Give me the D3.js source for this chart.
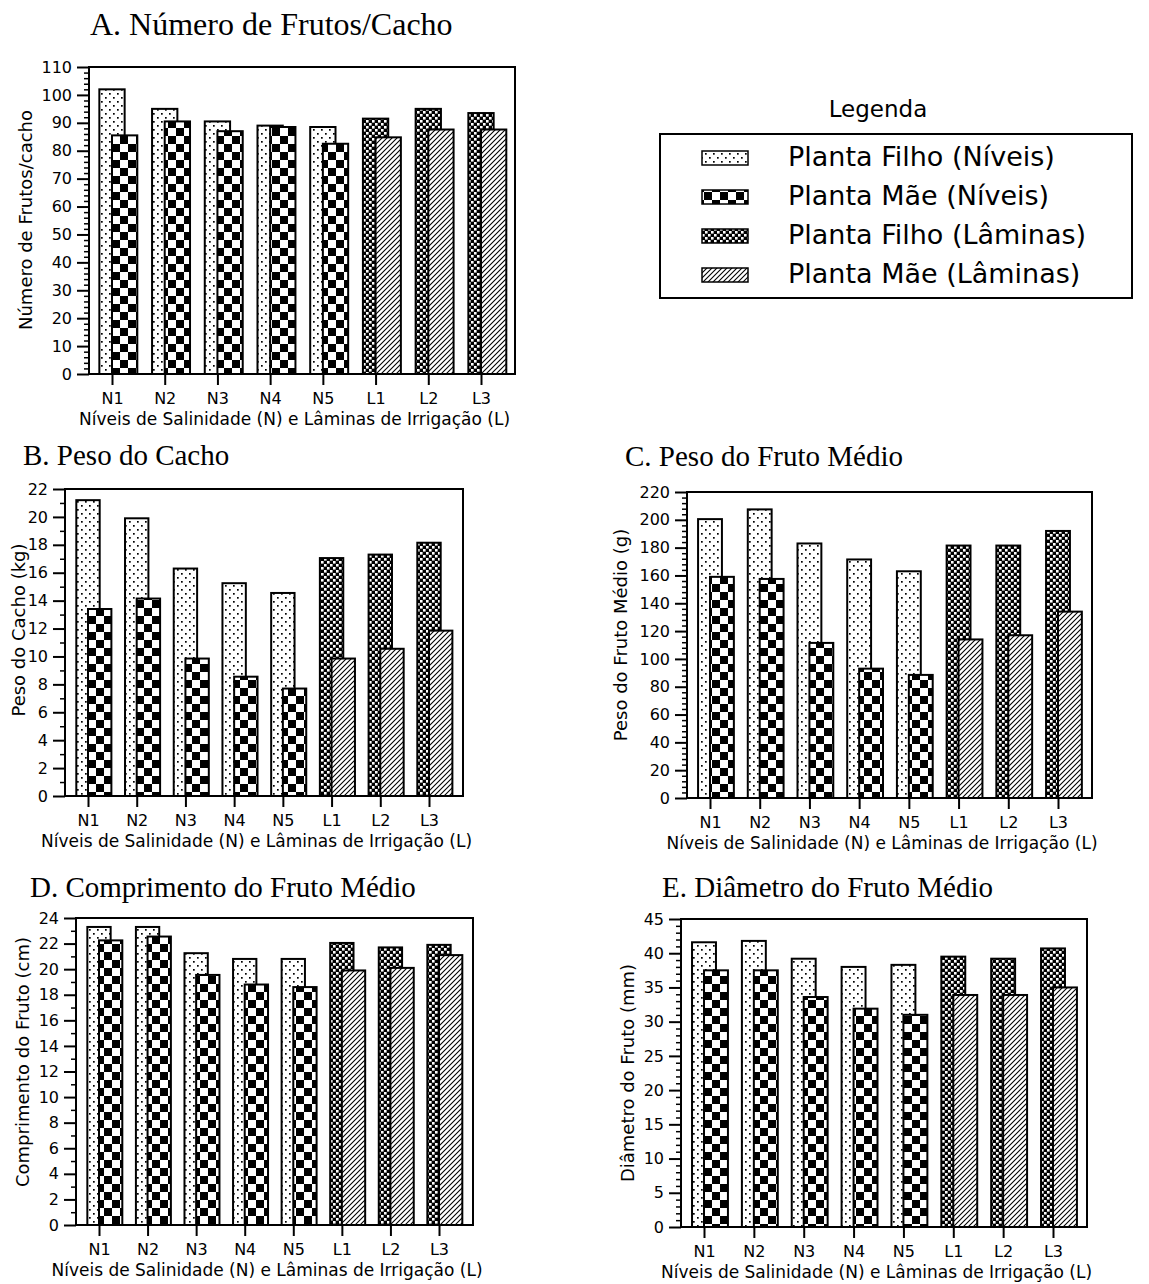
<!DOCTYPE html>
<html>
<head>
<meta charset="utf-8">
<script src="https://cdn.jsdelivr.net/npm/d3@7"></script>
<style>
body { margin: 0; background: #fff; }
svg { display: block; }
</style>
</head>
<body>
<svg width="1149" height="1284"></svg>
<script>
// categorias: N = níveis de salinidade, L = lâminas de irrigação
const categories = ["N1", "N2", "N3", "N4", "N5", "L1", "L2", "L3"];

// A. Número de frutos por cacho
const frutosFilho = [102, 95, 90.5, 89, 88.5, 91.5, 95, 93.5];
const frutosMae = [85.5, 90.5, 87, 88.5, 82.5, 84.8, 87.6, 87.6];
// B. Peso do cacho (kg)
const cachoFilho = [21.2, 19.9, 16.3, 15.25, 14.55, 17.05, 17.3, 18.15];
const cachoMae = [13.4, 14.15, 9.85, 8.55, 7.7, 9.85, 10.55, 11.85];
// C. Peso do fruto médio (g)
const pesoFilho = [200.5, 207.5, 183, 171.5, 163, 181.5, 181.5, 192];
const pesoMae = [159, 157.5, 111.5, 93, 88.5, 114, 117, 134];
// D. Comprimento do fruto (cm)
const compFilho = [23.3, 23.3, 21.25, 20.8, 20.8, 22.05, 21.7, 21.9];
const compMae = [22.25, 22.55, 19.55, 18.8, 18.6, 19.9, 20.1, 21.1];
// E. Diâmetro do fruto (mm)
const diamFilho = [41.6, 41.8, 39.2, 38.0, 38.3, 39.5, 39.2, 40.7];
const diamMae = [37.5, 37.5, 33.6, 31.9, 31.0, 33.9, 33.9, 35.0];

// ticks do eixo y
const ticksA = [0, 10, 20, 30, 40, 50, 60, 70, 80, 90, 100, 110];
const ticksB = [0, 2, 4, 6, 8, 10, 12, 14, 16, 18, 20, 22];
const ticksC = [0, 20, 40, 60, 80, 100, 120, 140, 160, 180, 200, 220];
const ticksD = [0, 2, 4, 6, 8, 10, 12, 14, 16, 18, 20, 22, 24];
const ticksE = [0, 5, 10, 15, 20, 25, 30, 35, 40, 45];

const legendLabels = ["Planta Filho (Níveis)", "Planta Mãe (Níveis)", "Planta Filho (Lâminas)", "Planta Mãe (Lâminas)"];
const legendFills = ["dots", "checker", "fine", "hatch"];

const axisTitle = "Níveis de Salinidade (N) e Lâminas de Irrigação (L)";
const sans = "DejaVu Sans, Verdana, sans-serif";
const serif = "Liberation Serif, Times New Roman, serif";

var svg = d3.select("svg");
var defs = svg.append("defs");

function makePattern(id, w, h) {
  var p = defs.append("pattern")
    .attr("id", id)
    .attr("patternUnits", "userSpaceOnUse")
    .attr("width", w)
    .attr("height", h);
  p.append("rect").attr("width", w).attr("height", h).attr("fill", "#fff");
  return p;
}

var dots = makePattern("dots", 8, 8);
dots.append("rect").attr("x", 1).attr("y", 1).attr("width", 1.7).attr("height", 1.7).attr("fill", "#000");
dots.append("rect").attr("x", 5).attr("y", 5).attr("width", 1.7).attr("height", 1.7).attr("fill", "#000");

var checker = makePattern("checker", 16, 16);
checker.append("rect").attr("x", 0).attr("y", 0).attr("width", 8).attr("height", 8).attr("fill", "#000");
checker.append("rect").attr("x", 8).attr("y", 8).attr("width", 8).attr("height", 8).attr("fill", "#000");

var fine = makePattern("fine", 6, 6);
fine.append("rect").attr("width", 6).attr("height", 6).attr("fill", "#000");
fine.append("rect").attr("x", 0).attr("y", 0).attr("width", 2.6).attr("height", 2.6).attr("fill", "#fff");
fine.append("rect").attr("x", 3).attr("y", 3).attr("width", 2.6).attr("height", 2.6).attr("fill", "#fff");

var hatch = makePattern("hatch", 5, 5);
hatch.append("path")
  .attr("d", "M0,5 L5,0 M-1,1 L1,-1 M4,6 L6,4")
  .attr("stroke", "#000")
  .attr("stroke-width", 1.1);

function panel(p) {
  var x = d3.scalePoint().domain(categories).range([p.left + 23, p.right - 34]);
  var y = d3.scaleLinear().domain([0, p.ticks[p.ticks.length - 1]]).range([p.bottom, p.top]);
  var bw = x.step() * 0.48;
  var g = svg.append("g");

  g.append("text")
    .attr("x", p.titleX)
    .attr("y", p.titleY)
    .attr("font-family", serif)
    .style("font-size", p.titleSize + "px")
    .text(p.title);

  // barras planta filho, depois planta mãe por cima
  g.selectAll(".filho").data(p.filho).enter().append("rect")
    .attr("class", "filho")
    .attr("x", (d, i) => x(categories[i]) - bw / 2)
    .attr("y", d => y(d))
    .attr("width", bw)
    .attr("height", d => y(0) - y(d))
    .attr("fill", (d, i) => categories[i][0] == "N" ? "url(#dots)" : "url(#fine)")
    .attr("stroke", "#000")
    .attr("stroke-width", 2);

  g.selectAll(".mae").data(p.mae).enter().append("rect")
    .attr("class", "mae")
    .attr("x", (d, i) => x(categories[i]))
    .attr("y", d => y(d))
    .attr("width", bw)
    .attr("height", d => y(0) - y(d))
    .attr("fill", (d, i) => categories[i][0] == "N" ? "url(#checker)" : "url(#hatch)")
    .attr("stroke", "#000")
    .attr("stroke-width", 2);

  // moldura
  g.append("rect")
    .attr("x", p.left)
    .attr("y", p.top)
    .attr("width", p.right - p.left)
    .attr("height", p.bottom - p.top)
    .attr("fill", "none")
    .attr("stroke", "#000")
    .attr("stroke-width", 2);

  var minor = d3.range(0, p.ticks[p.ticks.length - 1], p.minor).filter(v => p.ticks.indexOf(v) < 0);
  var gm = g.append("g")
    .attr("transform", "translate(" + p.left + ",0)")
    .call(d3.axisLeft(y).tickValues(minor).tickSize(5).tickFormat(""));
  gm.select(".domain").remove();
  gm.selectAll("line").attr("stroke-width", 1.5);

  var gy = g.append("g")
    .attr("transform", "translate(" + p.left + ",0)")
    .call(d3.axisLeft(y).tickValues(p.ticks).tickSize(12).tickPadding(5));
  gy.select(".domain").remove();
  gy.selectAll("line").attr("stroke-width", 2);
  gy.selectAll("text").attr("font-family", sans).style("font-size", "16px");

  var gx = g.append("g")
    .attr("transform", "translate(0," + p.bottom + ")")
    .call(d3.axisBottom(x).tickSize(11).tickPadding(8));
  gx.select(".domain").remove();
  gx.selectAll("line").attr("stroke-width", 2);
  gx.selectAll("text").attr("font-family", sans).style("font-size", "16px");

  var mid = (x.range()[0] + x.range()[1]) / 2 - 2;
  g.append("text")
    .attr("x", mid)
    .attr("y", p.bottom + 51)
    .attr("text-anchor", "middle")
    .attr("font-family", sans)
    .style("font-size", "17px")
    .text(axisTitle);

  g.append("text")
    .attr("transform", "translate(" + p.labelX + "," + p.labelY + ") rotate(-90)")
    .attr("text-anchor", "middle")
    .attr("dominant-baseline", "central")
    .attr("font-family", sans)
    .style("font-size", "18px")
    .text(p.label);
}

panel({ title: "A. Número de Frutos/Cacho", titleX: 90, titleY: 35, titleSize: 32,
  left: 89, right: 515, top: 67, bottom: 374, ticks: ticksA, minor: 2,
  filho: frutosFilho, mae: frutosMae, label: "Número de Frutos/cacho", labelX: 25, labelY: 220 });

panel({ title: "B. Peso do Cacho", titleX: 23, titleY: 465, titleSize: 29,
  left: 65, right: 463, top: 489, bottom: 796, ticks: ticksB, minor: 1,
  filho: cachoFilho, mae: cachoMae, label: "Peso do Cacho (kg)", labelX: 18, labelY: 630 });

panel({ title: "C. Peso do Fruto Médio", titleX: 625, titleY: 466, titleSize: 29,
  left: 687, right: 1092, top: 492, bottom: 798, ticks: ticksC, minor: 4,
  filho: pesoFilho, mae: pesoMae, label: "Peso do Fruto Médio (g)", labelX: 620, labelY: 635 });

panel({ title: "D. Comprimento do Fruto Médio", titleX: 30, titleY: 897, titleSize: 29,
  left: 76, right: 473, top: 918, bottom: 1225, ticks: ticksD, minor: 1,
  filho: compFilho, mae: compMae, label: "Comprimento do Fruto (cm)", labelX: 22, labelY: 1062 });

panel({ title: "E. Diâmetro do Fruto Médio", titleX: 662, titleY: 897, titleSize: 29,
  left: 681, right: 1087, top: 919, bottom: 1227, ticks: ticksE, minor: 1,
  filho: diamFilho, mae: diamMae, label: "Diâmetro do Fruto (mm)", labelX: 627, labelY: 1073 });

// legenda
var lg = svg.append("g");
lg.append("text")
  .attr("x", 878)
  .attr("y", 117)
  .attr("text-anchor", "middle")
  .attr("font-family", sans)
  .style("font-size", "23px")
  .text("Legenda");

lg.append("rect")
  .attr("x", 660)
  .attr("y", 134)
  .attr("width", 472)
  .attr("height", 164)
  .attr("fill", "#fff")
  .attr("stroke", "#000")
  .attr("stroke-width", 2);

var rowY = d3.scalePoint().domain(legendLabels).range([158, 275]);

lg.selectAll(".sw").data(legendLabels).enter().append("rect")
  .attr("x", 702)
  .attr("y", d => rowY(d) - 7)
  .attr("width", 46)
  .attr("height", 14)
  .attr("fill", (d, i) => "url(#" + legendFills[i] + ")")
  .attr("stroke", "#000")
  .attr("stroke-width", 1.5);

lg.selectAll(".lt").data(legendLabels).enter().append("text")
  .attr("x", 788)
  .attr("y", d => rowY(d) + 8)
  .attr("font-family", sans)
  .style("font-size", "27px")
  .text(d => d);
</script>
</body>
</html>
